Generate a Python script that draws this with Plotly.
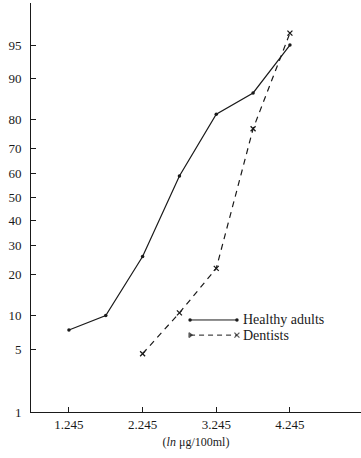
from statistics import NormalDist
import plotly.graph_objects as go

# ln concentration (ln ug/100ml) and cumulative percentages
x_adults = [1.245, 1.745, 2.245, 2.745, 3.245, 3.745, 4.245]
pct_adults = [7.5, 10, 26, 59, 81.5, 87, 95]

x_dentists = [2.245, 2.745, 3.245, 3.745, 4.245]
pct_dentists = [4.5, 10.5, 22, 77, 96.2]

x_ticks = [1.245, 2.245, 3.245, 4.245]
y_ticks = [1, 5, 10, 20, 30, 40, 50, 60, 70, 80, 90, 95]

nd = NormalDist()


def probit(p):
    return nd.inv_cdf(p / 100.0)


FONT = "Liberation Serif, Times New Roman, serif"
INK = "#1a1a1a"

fig = go.Figure()

fig.add_trace(go.Scatter(
    x=x_adults, y=[probit(p) for p in pct_adults],
    mode="lines+markers",
    line=dict(color=INK, width=1.2),
    marker=dict(color=INK, size=3.5),
    showlegend=False,
))
fig.add_trace(go.Scatter(
    x=x_dentists, y=[probit(p) for p in pct_dentists],
    mode="lines+markers",
    line=dict(color=INK, width=1.2, dash="6px,5px"),
    marker=dict(color=INK, size=5, symbol="x-thin", line=dict(color=INK, width=1.3)),
    showlegend=False,
))

# hand-drawn style key on an overlay axis (0..1 on both directions)
fig.add_trace(go.Scatter(
    x=[0.482, 0.624], y=[0.225, 0.225], xaxis="x2", yaxis="y2",
    mode="lines+markers",
    line=dict(color=INK, width=1.0),
    marker=dict(color=INK, size=3.5),
    showlegend=False, hoverinfo="skip",
))
fig.add_trace(go.Scatter(
    x=[0.482, 0.624], y=[0.188, 0.188], xaxis="x2", yaxis="y2",
    mode="lines+markers",
    line=dict(color=INK, width=1.0, dash="5px,4px"),
    marker=dict(color=INK, size=[4, 5], symbol=["triangle-right", "x-thin"],
                line=dict(color=INK, width=1.3)),
    showlegend=False, hoverinfo="skip",
))

for label, yp in [("Healthy adults", 0.225), ("Dentists", 0.188)]:
    fig.add_annotation(
        text=label, xref="paper", yref="paper", x=0.637, y=yp,
        xanchor="left", yanchor="middle", showarrow=False,
        font=dict(family=FONT, size=14, color=INK),
    )

fig.update_layout(
    width=361, height=458,
    margin=dict(l=31, r=0, t=3, b=46),
    paper_bgcolor="white", plot_bgcolor="white",
    font=dict(family=FONT, size=13, color=INK),
    xaxis=dict(
        range=[0.73, 5.21],
        tickmode="array", tickvals=x_ticks,
        ticktext=[f"{v:.3f}" for v in x_ticks],
        ticks="inside", ticklen=5, tickcolor=INK, tickwidth=1,
        showline=True, linecolor=INK, linewidth=1,
        showgrid=False, zeroline=False,
        title=dict(text="(<i>ln</i> μg/100ml)", font=dict(size=12), standoff=7),
    ),
    yaxis=dict(
        range=[probit(1), 2.10],
        tickmode="array", tickvals=[probit(p) for p in y_ticks],
        ticktext=[str(p) for p in y_ticks],
        ticks="inside", ticklen=5, tickcolor=INK, tickwidth=1,
        showline=True, linecolor=INK, linewidth=1,
        showgrid=False, zeroline=False, ticklabelstandoff=6,
    ),
    xaxis2=dict(overlaying="x", range=[0, 1], visible=False),
    yaxis2=dict(overlaying="y", range=[0, 1], visible=False),
)

fig.write_html("out.html")
